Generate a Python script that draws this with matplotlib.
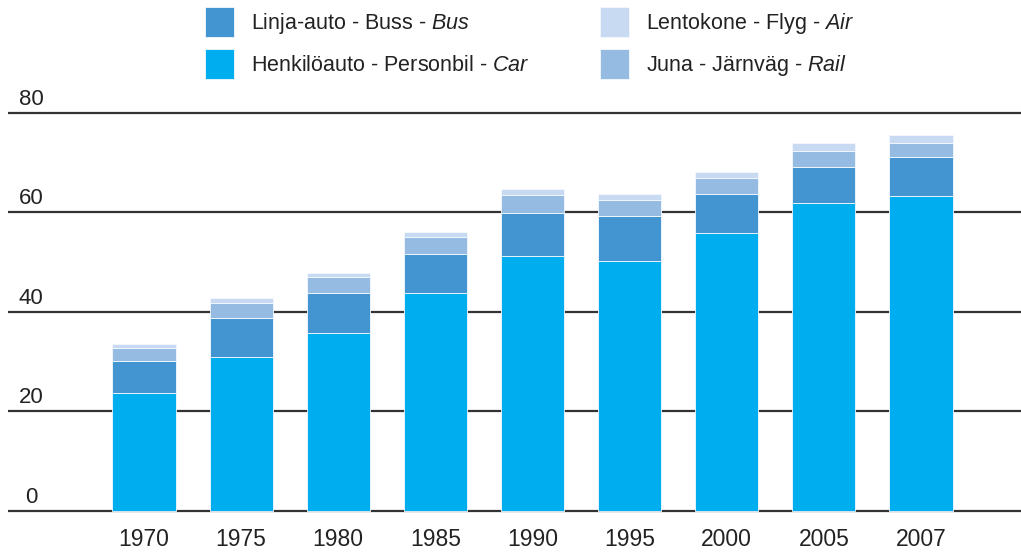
import matplotlib
matplotlib.use('Agg')
import matplotlib.pyplot as plt
import numpy as np

plt.rcParams['font.family'] = ['Liberation Sans', 'DejaVu Sans']
plt.rcParams['mathtext.fontset'] = 'custom'
plt.rcParams['mathtext.rm'] = 'Liberation Sans'
plt.rcParams['mathtext.it'] = 'Liberation Sans:italic'

years = ['1970', '1975', '1980', '1985', '1990', '1995', '2000', '2005', '2007']
car = [23.6, 30.8, 35.6, 43.8, 51.2, 50.2, 55.7, 61.8, 63.2]
bus = [6.4, 8.0, 8.2, 7.8, 8.6, 9.0, 7.9, 7.2, 7.8]
rail = [2.6, 3.0, 3.2, 3.4, 3.6, 3.2, 3.2, 3.2, 2.8]
air = [0.8, 1.0, 0.8, 1.0, 1.2, 1.2, 1.2, 1.6, 1.6]
y_ticks = [0, 20, 40, 60, 80]

labels = {
    'bus': r'Linja-auto - Buss - $\mathit{Bus}$',
    'car': r'Henkilöauto - Personbil - $\mathit{Car}$',
    'air': r'Lentokone - Flyg - $\mathit{Air}$',
    'rail': r'Juna - Järnväg - $\mathit{Rail}$',
}
colors = {'car': '#00aeef', 'bus': '#4295d1', 'rail': '#96bbe3', 'air': '#c8daf1'}

fig = plt.figure(figsize=(10.21, 5.52), dpi=100)
ax = fig.add_axes([8 / 1021, 31.4 / 552, 1 - 8 / 1021, 418 / 552])

x = np.arange(len(years))
w = 0.65
bottom = np.zeros(len(years))
bars = {}
for key, vals in [('car', car), ('bus', bus), ('rail', rail), ('air', air)]:
    bars[key] = ax.bar(x, vals, w, bottom=bottom, color=colors[key],
                       edgecolor='#f4f9ff', linewidth=0.6, zorder=3)
    bottom += np.array(vals)

for t in y_ticks:
    ax.axhline(t, color='#333333', lw=1.6, zorder=1)
    ax.annotate(str(t), (-1.164, t), xytext=(0, 2), textcoords='offset points',
                ha='center', va='bottom', fontsize=16, color='#222222')

ax.set_xlim(-1.40, 9.03)
ax.set_ylim(-2, 82)
ax.set_xticks(x)
ax.set_xticklabels(years, fontsize=16.5, color='#222222')
ax.set_yticks([])
ax.tick_params(axis='x', length=0, pad=5)
for s in ax.spines.values():
    s.set_visible(False)

# legend: two columns, bus/car on the left, air/rail on the right
order = ['bus', 'car', 'air', 'rail']
fig.legend([bars[k] for k in order], [labels[k] for k in order], ncol=2,
           loc='upper left', bbox_to_anchor=(205 / 1021, 1 - 7 / 552),
           frameon=False, fontsize=15.5, handlelength=1.35, handleheight=1.77,
           handletextpad=0.8, labelspacing=0.55, columnspacing=3.25,
           borderpad=0, borderaxespad=0, labelcolor='#222222')

fig.savefig('out.png', dpi=100)
